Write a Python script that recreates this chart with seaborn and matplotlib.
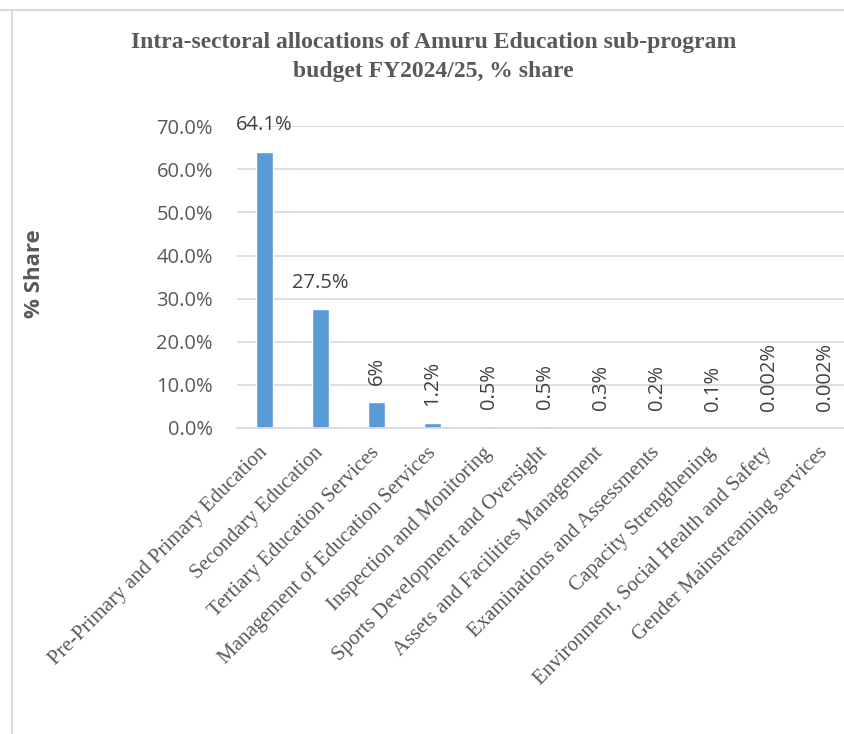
import matplotlib
matplotlib.use("Agg")
import matplotlib.pyplot as plt
from matplotlib.lines import Line2D
import seaborn as sns
import pandas as pd

sns.set_theme(style="white")

categories = [
    "Pre-Primary and Primary Education",
    "Secondary Education",
    "Tertiary Education Services",
    "Management of Education Services",
    "Inspection and Monitoring",
    "Sports Development and Oversight",
    "Assets and Facilities Management",
    "Examinations and Assessments",
    "Capacity Strengthening",
    "Environment, Social Health and Safety",
    "Gender Mainstreaming services",
]
shares = [64.1, 27.5, 6.0, 1.2, 0.5, 0.5, 0.3, 0.2, 0.1, 0.002, 0.002]
bar_labels = ["64.1%", "27.5%", "6%", "1.2%", "0.5%", "0.5%", "0.3%", "0.2%",
              "0.1%", "0.002%", "0.002%"]
yticks = [0, 10, 20, 30, 40, 50, 60, 70]

df = pd.DataFrame({"category": categories, "share": shares})

grey_txt = "#595959"
sans = ["Open Sans", "DejaVu Sans"]
serif = ["Liberation Serif", "DejaVu Serif"]

fig = plt.figure(figsize=(8.45, 7.34), dpi=100)
ax = fig.add_axes([0.280, 0.417, 0.729, 0.411])

sns.barplot(data=df, x="category", y="share", color="#5B9BD5", width=0.31,
            saturation=1, ax=ax)

ax.set_ylim(0, 70)
ax.set_yticks(yticks)
ax.set_yticklabels([f"{v:.1f}%" for v in yticks], family=sans, fontsize=14.5,
                   color=grey_txt)
ax.yaxis.grid(True, color="#D9D9D9", linewidth=1.2)
ax.set_axisbelow(True)
for s in ["top", "right", "left"]:
    ax.spines[s].set_visible(False)
ax.spines["bottom"].set_color("#D9D9D9")
ax.spines["bottom"].set_linewidth(1.2)
ax.tick_params(axis="y", length=0, pad=17)

ax.set_xticks(range(len(categories)))
ax.set_xticklabels(categories, rotation=45, ha="right", va="center",
                   rotation_mode="anchor", family=serif, fontsize=15,
                   color=grey_txt)
ax.tick_params(axis="x", length=0, pad=16)

ax.set_xlabel("")
ax.set_ylabel("% Share", family=sans, fontsize=16, fontweight="bold",
              color=grey_txt)
ax.yaxis.set_label_coords(45 / 845, 1 - 274 / 734, transform=fig.transFigure)

for i, (v, lab) in enumerate(zip(shares, bar_labels)):
    rot = 0 if v > 10 else 90
    ax.annotate(lab, (i, v), xytext=(0, 12), textcoords="offset points",
                ha="center", va="bottom", rotation=rot, family=sans,
                fontsize=14.5, color="#404040")

fig.text(0.513, 0.922, "Intra-sectoral allocations of Amuru Education sub-program\nbudget FY2024/25, % share",
         ha="center", va="center", family=serif, fontsize=17,
         fontweight="bold", color=grey_txt, linespacing=1.5)

# chart area border (partly cropped)
fig.add_artist(Line2D([0, 1], [1 - 10 / 734] * 2, transform=fig.transFigure,
                      color="#D9D9D9", linewidth=1.5))
fig.add_artist(Line2D([12 / 845] * 2, [0, 1 - 10 / 734], transform=fig.transFigure,
                      color="#D9D9D9", linewidth=1.5))

fig.savefig("out.png", dpi=100, facecolor="white")
